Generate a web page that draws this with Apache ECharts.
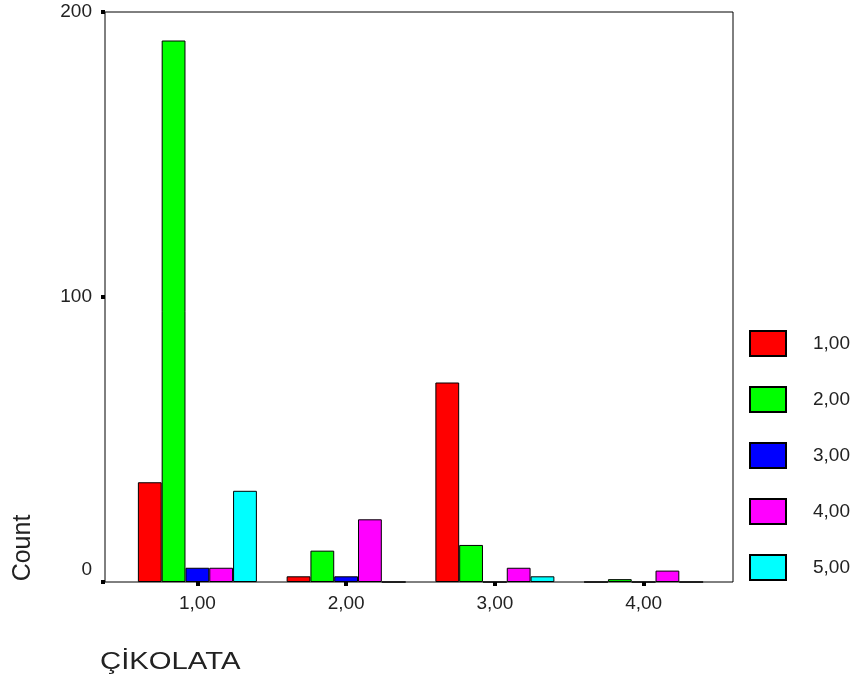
<!DOCTYPE html>
<html>
<head>
<meta charset="utf-8">
<script src="https://cdn.jsdelivr.net/npm/echarts@6/dist/echarts.min.js"></script>
<style>
  html, body { margin: 0; padding: 0; background: #fff; }
  #chart { width: 856px; height: 682px; }
</style>
</head>
<body>
<div id="chart"></div>
<script>
// Category labels along the x axis (ÇİKOLATA groups)
const categories = ['1,00', '2,00', '3,00', '4,00'];

// Counts for each group value, one array per series
const seriesNames = ['1,00', '2,00', '3,00', '4,00', '5,00'];
const values1 = [35, 2, 70, 0];
const values2 = [190, 11, 13, 1];
const values3 = [5, 2, 0, 0];
const values4 = [5, 22, 5, 4];
const values5 = [32, 0, 2, 0];
const seriesValues = [values1, values2, values3, values4, values5];
const seriesColors = ['#ff0000', '#00ff00', '#0000ff', '#ff00ff', '#00ffff'];

// Y axis range and tick step
const yMin = 0, yMax = 200, yStep = 100;

const FONT = '"Liberation Sans", Arial, sans-serif';
const TEXT = '#222';
const LABEL_SIZE = 19;

const chart = echarts.init(document.getElementById('chart'), null, { renderer: 'canvas' });

const barSeries = seriesNames.map((name, i) => ({
  name: name,
  type: 'bar',
  xAxisIndex: 1,
  yAxisIndex: 1,
  data: seriesValues[i],
  barGap: '0%',
  barCategoryGap: '20%',
  itemStyle: { color: seriesColors[i], borderColor: '#000', borderWidth: 1 },
  emphasis: { disabled: true },
  animation: false
}));

chart.setOption({
  animation: false,
  backgroundColor: '#fff',
  textStyle: { fontFamily: FONT, color: TEXT },
  graphic: [{
    // y axis title, reading bottom to top
    type: 'text',
    x: 23,
    y: 548,
    rotation: Math.PI / 2,
    style: {
      text: 'Count',
      fontFamily: FONT,
      fontSize: 25,
      fill: TEXT,
      textAlign: 'center',
      textVerticalAlign: 'middle'
    }
  }, {
    // x axis title, set wide
    type: 'text',
    x: 100,
    y: 662,
    scaleX: 1.22,
    style: {
      text: 'ÇİKOLATA',
      fontFamily: FONT,
      fontSize: 24,
      fill: TEXT,
      textAlign: 'left',
      textVerticalAlign: 'middle'
    }
  }],
  legend: {
    orient: 'vertical',
    left: 749,
    top: 330,
    padding: 0,
    itemWidth: 36,
    itemHeight: 25,
    itemGap: 29,
    icon: 'rect',
    selectedMode: false,
    data: seriesNames,
    textStyle: { fontFamily: FONT, fontSize: LABEL_SIZE, color: TEXT, padding: [0, 0, 0, 22] }
  },
  grid: [
    // outer frame
    { left: 105, top: 12, width: 628, height: 570, show: true, borderColor: '#000', borderWidth: 1, backgroundColor: 'transparent' },
    // plotting band for the bars
    { left: 123, top: 12, width: 595, height: 570 }
  ],
  xAxis: [
    { gridIndex: 0, type: 'value', show: false, min: 0, max: 1 },
    {
      gridIndex: 1,
      type: 'category',
      data: categories,
      axisLine: { show: false },
      axisTick: { show: true, alignWithLabel: true, length: 4, lineStyle: { color: '#000', width: 4 } },
      axisLabel: { margin: 12, fontFamily: FONT, fontSize: LABEL_SIZE, color: TEXT }
    }
  ],
  yAxis: [
    { gridIndex: 0, type: 'value', show: false, min: 0, max: 1 },
    {
      gridIndex: 1,
      type: 'value',
      min: yMin,
      max: yMax,
      interval: yStep,
      offset: 18,
      splitLine: { show: false },
      axisLine: { show: false },
      axisTick: { show: true, length: 4, lineStyle: { color: '#000', width: 4 } },
      axisLabel: {
        margin: 13,
        fontFamily: FONT,
        fontSize: LABEL_SIZE,
        color: TEXT,
        // the zero label sits a little above the baseline
        formatter: v => (v === 0 ? '{z|0}' : String(v)),
        rich: { z: { fontFamily: FONT, fontSize: LABEL_SIZE, color: TEXT, padding: [0, 0, 24, 0] } }
      }
    }
  ],
  series: barSeries
});
</script>
</body>
</html>
